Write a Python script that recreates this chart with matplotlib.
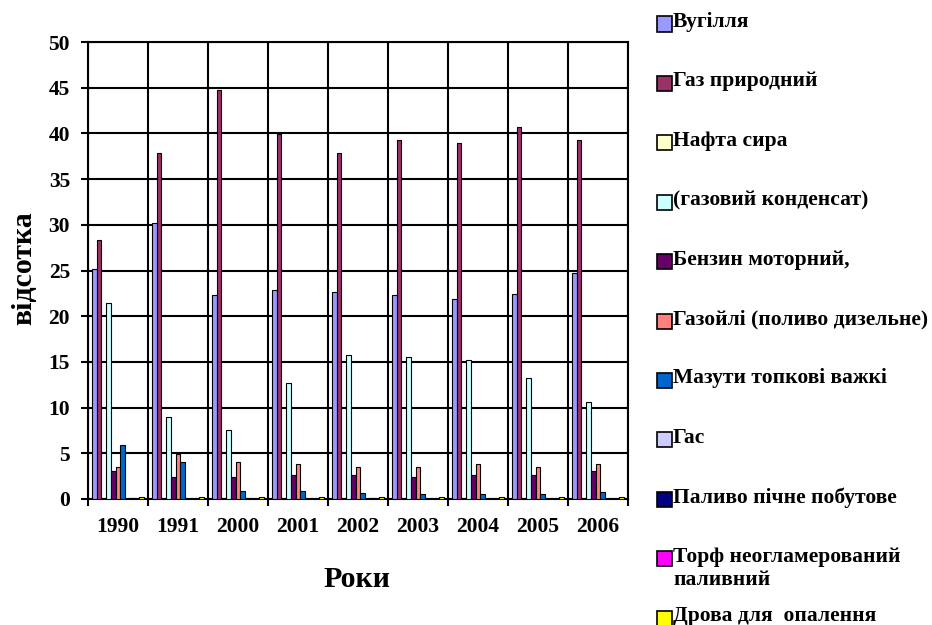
import numpy as np
import matplotlib.pyplot as plt
from matplotlib.patches import Rectangle

plt.rcParams['font.family'] = ['Liberation Serif', 'DejaVu Serif']
plt.rcParams['font.weight'] = 'bold'

# data (percent)
years = ['1990', '1991', '2000', '2001', '2002', '2003', '2004', '2005', '2006']

coal = [25.2, 30.2, 22.3, 22.9, 22.6, 22.3, 21.9, 22.4, 24.7]
gas = [28.3, 37.9, 44.7, 39.9, 37.9, 39.3, 38.9, 40.7, 39.3]
crude = [0, 0, 0, 0, 0, 0, 0, 0, 0]
condensate = [21.4, 9.0, 7.6, 12.7, 15.8, 15.5, 15.2, 13.2, 10.6]
petrol = [3.1, 2.4, 2.4, 2.6, 2.6, 2.4, 2.6, 2.6, 3.1]
gasoil = [3.5, 4.9, 4.0, 3.8, 3.5, 3.5, 3.8, 3.5, 3.8]
fueloil = [5.9, 4.0, 0.9, 0.9, 0.7, 0.5, 0.5, 0.5, 0.8]
kerosene = [0, 0, 0.1, 0, 0, 0, 0, 0, 0]
stove = [0.1, 0, 0, 0, 0.1, 0, 0, 0, 0]
peat = [0, 0, 0, 0, 0, 0, 0, 0, 0]
wood = [0.2, 0.2, 0.2, 0.2, 0.2, 0.2, 0.2, 0.2, 0.2]

fuels = ['Вугілля', 'Газ природний', 'Нафта сира', '(газовий конденсат)',
         'Бензин моторний,', 'Газойлі (поливо дизельне)', 'Мазути топкові важкі',
         'Гас', 'Паливо пічне побутове', 'Торф неогламерований\nпаливний',
         'Дрова для  опалення']
colors = ['#9999FF', '#993366', '#FFFFCC', '#CCFFFF', '#660066', '#FF8080',
          '#0066CC', '#CCCCFF', '#000080', '#FF00FF', '#FFFF00']
series = [coal, gas, crude, condensate, petrol, gasoil, fueloil,
          kerosene, stove, peat, wood]

W, H = 932, 625
fig = plt.figure(figsize=(W / 100, H / 100), dpi=100)
ax = fig.add_axes([88 / W, 1 - 499 / H, 540 / W, 457 / H])

x = np.arange(len(years))
w = 52 / 60 / len(series)
start = -0.5 + 4 / 60
for j, (vals, col) in enumerate(zip(series, colors)):
    ax.bar(x + start + j * w, vals, w, align='edge', color=col,
           edgecolor='black', linewidth=0.8, zorder=3)

ax.set_xlim(-0.5, len(years) - 0.5)
ax.set_ylim(0, 50)
ax.set_yticks(range(0, 51, 5))
ax.set_xticks(x)
ax.set_xticklabels(years)
ax.set_xticks(np.arange(len(years) + 1) - 0.5, minor=True)

ax.set_axisbelow(True)
ax.grid(axis='y', which='major', color='black', lw=1.5)
ax.grid(axis='x', which='minor', color='black', lw=1.5)
for s in ax.spines.values():
    s.set_linewidth(1.5)

ax.tick_params(axis='x', which='major', length=0, pad=13, labelsize=15.5)
ax.tick_params(axis='x', which='minor', length=5, width=1.5)
ax.tick_params(axis='y', length=5, width=1.5, pad=8, labelsize=15.5)

fig.text(24 / W, 1 - 268 / H, 'відсотка', rotation=90, ha='center',
         va='center', fontsize=21.5, fontweight='bold')
fig.text(357 / W, 1 - 587 / H, 'Роки', ha='center', va='baseline',
         fontsize=21.5, fontweight='bold')

# legend at the right, one slot per fuel
step = 59.4
for k, (name, col) in enumerate(zip(fuels, colors)):
    yc = 24 + k * step
    fig.add_artist(Rectangle((657 / W, 1 - (yc + 7.5) / H), 15 / W, 15 / H,
                             transform=fig.transFigure, facecolor=col,
                             edgecolor='black', lw=1.2))
    fig.text(673 / W, 1 - (yc - 12) / H, name, ha='left', va='top',
             fontsize=15.5, fontweight='bold', linespacing=1.25)

fig.savefig('out.png', dpi=100)
